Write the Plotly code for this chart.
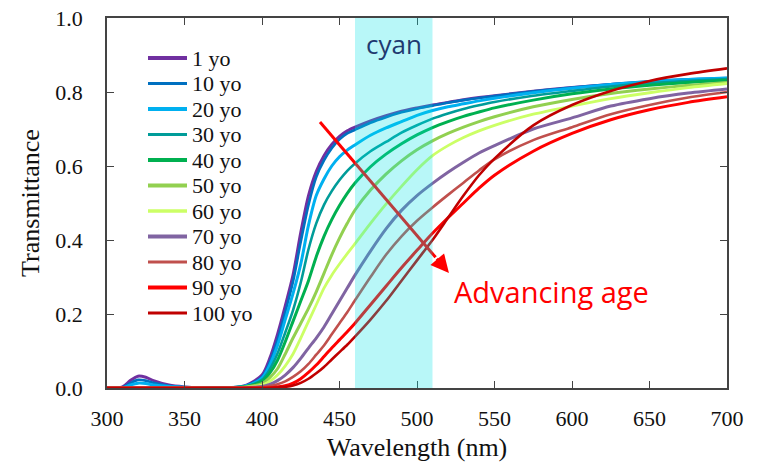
import plotly.graph_objects as go

# ---------------- data ----------------
wavelength = [300, 310, 315, 320, 325, 330, 340, 350, 360, 380, 390, 400, 405, 410, 415,
              420, 425, 430, 435, 440, 445, 450, 455, 460, 470, 480, 490, 500, 510, 520,
              530, 540, 550, 575, 600, 625, 650, 675, 700]

ages = ["1 yo", "10 yo", "20 yo", "30 yo", "40 yo", "50 yo", "60 yo", "70 yo", "80 yo", "90 yo", "100 yo"]

t_1 = [0, 0.003, 0.02, 0.032, 0.029, 0.02, 0.008, 0.003, 0.001, 0.001, 0.008, 0.035, 0.08, 0.145, 0.222,
       0.305, 0.42, 0.52, 0.585, 0.628, 0.658, 0.68, 0.695, 0.705, 0.722, 0.736, 0.748, 0.757, 0.765, 0.772,
       0.779, 0.785, 0.79, 0.802, 0.812, 0.82, 0.827, 0.832, 0.836]
t_10 = [0, 0.002, 0.013, 0.022, 0.02, 0.014, 0.006, 0.002, 0.001, 0.001, 0.007, 0.03, 0.07, 0.13, 0.205,
        0.287, 0.395, 0.495, 0.57, 0.615, 0.648, 0.672, 0.688, 0.698, 0.717, 0.732, 0.745, 0.755, 0.763, 0.771,
        0.778, 0.784, 0.789, 0.802, 0.812, 0.821, 0.829, 0.834, 0.838]
t_20 = [0, 0.001, 0.008, 0.013, 0.012, 0.008, 0.004, 0.002, 0.001, 0.001, 0.006, 0.027, 0.062, 0.115, 0.185,
        0.255, 0.335, 0.44, 0.52, 0.565, 0.6, 0.625, 0.643, 0.657, 0.683, 0.703, 0.72, 0.737, 0.75, 0.76,
        0.768, 0.776, 0.783, 0.798, 0.81, 0.82, 0.828, 0.834, 0.838]
t_30 = [0, 0, 0, 0, 0, 0, 0, 0, 0, 0.001, 0.005, 0.022, 0.05, 0.093, 0.15,
        0.21, 0.285, 0.375, 0.445, 0.495, 0.532, 0.562, 0.587, 0.607, 0.64, 0.665, 0.69, 0.71, 0.728, 0.742,
        0.754, 0.764, 0.773, 0.79, 0.803, 0.815, 0.824, 0.83, 0.835]
t_40 = [0, 0, 0, 0, 0, 0, 0, 0, 0, 0.001, 0.004, 0.018, 0.04, 0.075, 0.125,
        0.18, 0.235, 0.29, 0.355, 0.41, 0.455, 0.493, 0.526, 0.554, 0.598, 0.632, 0.66, 0.684, 0.704, 0.72,
        0.734, 0.746, 0.757, 0.778, 0.795, 0.808, 0.818, 0.826, 0.832]
t_50 = [0, 0, 0, 0, 0, 0, 0, 0, 0, 0, 0.003, 0.012, 0.028, 0.052, 0.092,
        0.135, 0.175, 0.215, 0.26, 0.31, 0.36, 0.405, 0.445, 0.481, 0.535, 0.578, 0.614, 0.644, 0.668, 0.688,
        0.705, 0.72, 0.733, 0.76, 0.78, 0.796, 0.808, 0.818, 0.826]
t_60 = [0, 0, 0, 0, 0, 0, 0, 0, 0, 0, 0.002, 0.008, 0.018, 0.035, 0.06,
        0.092, 0.135, 0.18, 0.225, 0.27, 0.305, 0.335, 0.363, 0.39, 0.445, 0.497, 0.545, 0.59, 0.628, 0.655,
        0.677, 0.695, 0.71, 0.74, 0.762, 0.782, 0.798, 0.812, 0.823]
t_70 = [0, 0, 0, 0, 0, 0, 0, 0, 0, 0, 0.001, 0.004, 0.01, 0.02, 0.035,
        0.055, 0.08, 0.108, 0.135, 0.165, 0.2, 0.235, 0.27, 0.305, 0.37, 0.43, 0.48, 0.52, 0.553, 0.583,
        0.61, 0.635, 0.655, 0.7, 0.73, 0.762, 0.782, 0.797, 0.808]
t_80 = [0, 0, 0, 0, 0, 0, 0, 0, 0, 0, 0, 0.002, 0.005, 0.01, 0.018,
        0.03, 0.045, 0.065, 0.09, 0.115, 0.145, 0.175, 0.205, 0.237, 0.3, 0.36, 0.41, 0.452, 0.488, 0.522,
        0.555, 0.588, 0.618, 0.67, 0.705, 0.74, 0.765, 0.785, 0.8]
t_90 = [0, 0, 0, 0, 0, 0, 0, 0, 0, 0, 0, 0, 0.001, 0.003, 0.006,
        0.013, 0.025, 0.042, 0.062, 0.085, 0.108, 0.13, 0.152, 0.175, 0.225, 0.275, 0.325, 0.372, 0.418, 0.46,
        0.5, 0.54, 0.575, 0.64, 0.688, 0.725, 0.752, 0.772, 0.787]
t_100 = [0, 0, 0, 0, 0, 0, 0, 0, 0, 0, 0, 0, 0, 0.001, 0.003,
         0.007, 0.014, 0.025, 0.04, 0.057, 0.077, 0.097, 0.117, 0.139, 0.185, 0.235, 0.29, 0.345, 0.4, 0.46,
         0.52, 0.575, 0.62, 0.71, 0.765, 0.803, 0.83, 0.849, 0.864]

series = [t_1, t_10, t_20, t_30, t_40, t_50, t_60, t_70, t_80, t_90, t_100]

colors = ["#7030a0", "#0070c0", "#00b0f0", "#009c99", "#00b050", "#92d050",
          "#ccff66", "#8064a2", "#c0504d", "#ff0000", "#c00000"]
line_w = [3, 2.6, 3, 2.6, 3, 3, 2.8, 3, 2.6, 3, 2.6]
legend_w = [4, 3.2, 4, 3.2, 4, 4, 3.6, 4, 3.2, 4, 3.2]

x_ticks = [300, 350, 400, 450, 500, 550, 600, 650, 700]
y_ticks = [0.0, 0.2, 0.4, 0.6, 0.8, 1.0]

cyan_band = (460, 510)
arrow_start = (437.4, 0.719)
arrow_end = (520.6, 0.311)

# ---------------- layout constants ----------------
W, H = 760, 464
ML, MR, MT, MB = 107, 33, 18, 76
PW, PH = W - ML - MR, H - MT - MB
SERIF = "Liberation Serif, Times New Roman, serif"
SANS = "Open Sans, Noto Sans, sans-serif"

fig = go.Figure()
for name, vals, c, w in zip(ages, series, colors, line_w):
    fig.add_trace(go.Scatter(x=wavelength, y=vals, mode="lines", name=name,
                             line=dict(color=c, width=w, shape="spline", smoothing=0.8),
                             showlegend=False))

shapes = []
annotations = []

# arrow shaft (below cyan band so it is tinted like the original)
t_split = (512 - arrow_start[0]) / (arrow_end[0] - arrow_start[0])
mid = (512, arrow_start[1] + t_split * (arrow_end[1] - arrow_start[1]))
shapes.append(dict(type="line", xref="x", yref="y", x0=arrow_start[0], y0=arrow_start[1],
                   x1=mid[0], y1=mid[1], line=dict(color="#ff0000", width=3), layer="above"))
# cyan band (semi-transparent, above curves)
shapes.append(dict(type="rect", xref="x", yref="y", x0=cyan_band[0], x1=cyan_band[1], y0=0, y1=1,
                   fillcolor="rgba(0,225,230,0.28)", line=dict(width=0), layer="above"))
annotations.append(dict(x=arrow_end[0], y=arrow_end[1], xref="x", yref="y",
                        ax=mid[0], ay=mid[1], axref="x", ayref="y", text="", showarrow=True,
                        arrowhead=2, arrowsize=1.2, arrowwidth=3, arrowcolor="#ff0000"))

annotations.append(dict(x=sum(cyan_band) / 2, y=0.93, xref="x", yref="y", text="cyan",
                        showarrow=False, font=dict(family=SANS, size=26, color="#1f3a70"),
                        xanchor="center", yanchor="middle"))
annotations.append(dict(x=522.6, y=0.262, xref="x", yref="y", text="Advancing age",
                        showarrow=False, font=dict(family=SANS, size=29, color="#ff0000"),
                        xanchor="left", yanchor="middle"))

# manual legend (pixel layout -> paper coords)
leg_x0, leg_x1, leg_tx = 148, 187, 190
leg_y0, leg_dy = 58, 25.5
for i, (name, c, w) in enumerate(zip(ages, colors, legend_w)):
    py = leg_y0 + i * leg_dy
    yp = (H - MB - py) / PH
    shapes.append(dict(type="line", xref="paper", yref="paper",
                       x0=(leg_x0 - ML) / PW, x1=(leg_x1 - ML) / PW, y0=yp, y1=yp,
                       line=dict(color=c, width=w)))
    annotations.append(dict(x=(leg_tx - ML) / PW, y=yp, xref="paper", yref="paper", text=name,
                            showarrow=False, xanchor="left", yanchor="middle",
                            font=dict(family=SERIF, size=22, color="#111")))

axis_common = dict(showline=True, linecolor="#444", linewidth=1.5, mirror="ticks",
                   ticks="inside", ticklen=7, tickcolor="#444", tickwidth=1.2,
                   showgrid=False, zeroline=False, automargin=False,
                   tickfont=dict(family=SERIF, size=22, color="#111"))

fig.update_layout(
    width=W, height=H,
    margin=dict(l=ML, r=MR, t=MT, b=MB, pad=0, autoexpand=False),
    paper_bgcolor="white", plot_bgcolor="white",
    shapes=shapes, annotations=annotations,
    xaxis=dict(range=[300, 700], tickvals=x_ticks, ticklabelstandoff=10,
               title=dict(text="Wavelength (nm)", font=dict(family=SERIF, size=26, color="#111"), standoff=8),
               **axis_common),
    yaxis=dict(range=[0, 1], tickvals=y_ticks, tickformat=".1f", ticklabelstandoff=18,
               title=dict(text="Transmittance", font=dict(family=SERIF, size=26, color="#111"), standoff=8),
               **axis_common),
)

fig.write_html("out.html")
